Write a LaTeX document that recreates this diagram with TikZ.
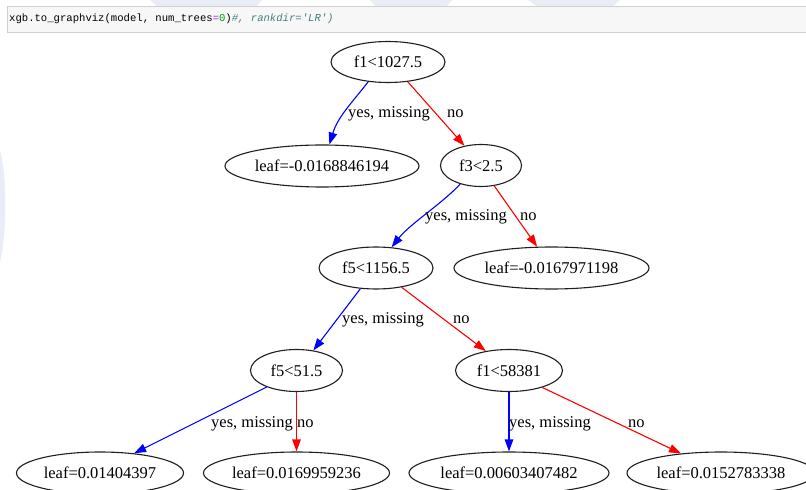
\documentclass[tikz,border=0pt]{standalone}
\usepackage{fontspec}
\setmainfont{Liberation Serif}
\setmonofont{Liberation Mono}
\usetikzlibrary{shapes.geometric,arrows.meta}
\definecolor{cellbg}{HTML}{F7F7F7}
\definecolor{cellbd}{HTML}{CFCFCF}
\definecolor{opc}{HTML}{AA22FF}
\definecolor{numc}{HTML}{00A000}
\definecolor{cmtc}{HTML}{408080}
\definecolor{wmark}{HTML}{E9EDF6}
\definecolor{edgeblue}{HTML}{0000FF}
\definecolor{edgered}{HTML}{FF0000}
\begin{document}
\begin{tikzpicture}[x=1bp,y=1bp,
  tree/.style={ellipse, draw=black!88, line width=1.1bp, inner sep=0pt,
    minimum height=42bp, font=\fontsize{16.5bp}{19bp}\selectfont},
  yesedge/.style={draw=edgeblue, line width=1.1bp, -{Triangle[length=12bp,width=8.5bp]}},
  noedge/.style={draw=edgered, line width=1.1bp, -{Triangle[length=12bp,width=8.5bp]}},
  elabel/.style={anchor=base west, inner sep=0pt, font=\fontsize{16.5bp}{19bp}\selectfont},
  codetext/.style={anchor=base west, inner sep=0pt, font=\fontsize{10.6bp}{12bp}\ttfamily}
]
\useasboundingbox (0,0) rectangle (806,-490);
\fill[white] (0,0) rectangle (806,-490);
% faint watermark
\fill[wmark] (0,-150) .. controls (7,-175) and (7,-235) .. (0,-262) -- cycle;
\fill[wmark] (150,0) -- (262,0) -- (256,-7) -- (158,-7) -- cycle;
\fill[wmark] (370,0) -- (452,0) -- (446,-7) -- (376,-7) -- cycle;
\fill[wmark] (528,0) -- (620,0) -- (612,-7) -- (538,-7) -- cycle;
% code cell
\draw[cellbd, fill=cellbg, line width=0.8bp] (7,-6) rectangle (812,-32);
\node[codetext] (code) at (9,-22) {xgb.to\_graphviz(model, num\_trees{\color{opc}=}{\color{numc}0}){\itshape\color{cmtc}\#, rankdir='LR')}};
% tree nodes
\node[tree, minimum width=114bp, minimum height=41bp] (f1) at (388,-62) {\makebox[0pt]{f1<1027.5}};
\node[tree, minimum width=194bp] (lA) at (322,-166) {\makebox[0pt]{leaf=-0.0168846194}};
\node[tree, minimum width=81bp] (f3) at (481,-165.5) {\makebox[0pt]{f3<2.5}};
\node[tree, minimum width=114bp] (f5a) at (376,-268) {\makebox[0pt]{f5<1156.5}};
\node[tree, minimum width=195bp] (lB) at (551.5,-268) {\makebox[0pt]{leaf=-0.0167971198}};
\node[tree, minimum width=92bp] (f5b) at (296.5,-370.5) {\makebox[0pt]{f5<51.5}};
\node[tree, minimum width=107bp] (f1b) at (509,-370.5) {\makebox[0pt]{f1<58381}};
\node[tree, minimum width=167bp] (lC) at (100,-473) {\makebox[0pt]{leaf=0.01404397}};
\node[tree, minimum width=186bp] (lD) at (296.5,-473) {\makebox[0pt]{leaf=0.0169959236}};
\node[tree, minimum width=200bp] (lE) at (509,-473) {\makebox[0pt]{leaf=0.00603407482}};
\node[tree, minimum width=188bp] (lF) at (721,-473) {\makebox[0pt]{leaf=0.0152783338}};
% edges
\draw[yesedge] (f1.-135) to[out=-128, in=73] (lA.71);
\draw[noedge] (f1.-45) -- (f3.130);
\draw[yesedge] (f3.-138) to[out=-134, in=52, looseness=0.8] (f5a.53);
\draw[noedge] (f3.-57) -- (lB.124);
\draw[yesedge] (f5a.-127) -- (f5b.50);
\draw[noedge] (f5a.-37) -- (f1b.140);
\draw[yesedge] (f5b.-151) -- (lC.30);
\draw[noedge] (f5b.-90) -- (lD.90);
\draw[yesedge] (f1b.-90) -- (lE.90);
\draw[noedge] (f1b.-27) -- (lF.154);
% edge labels
\node[elabel] (t1y) at (348,-118) {yes, missing};
\node[elabel] (t1n) at (447,-118) {no};
\node[elabel] (t2y) at (425,-221) {yes, missing};
\node[elabel] (t2n) at (520,-221) {no};
\node[elabel] (t3y) at (342,-323) {yes, missing};
\node[elabel] (t3n) at (453,-323) {no};
\node[elabel] (t4y) at (211,-427) {yes, missing};
\node[elabel] (t4n) at (297,-427) {no};
\node[elabel] (t5y) at (509,-427) {yes, missing};
\node[elabel] (t5n) at (628,-427) {no};
\end{tikzpicture}
\end{document}
